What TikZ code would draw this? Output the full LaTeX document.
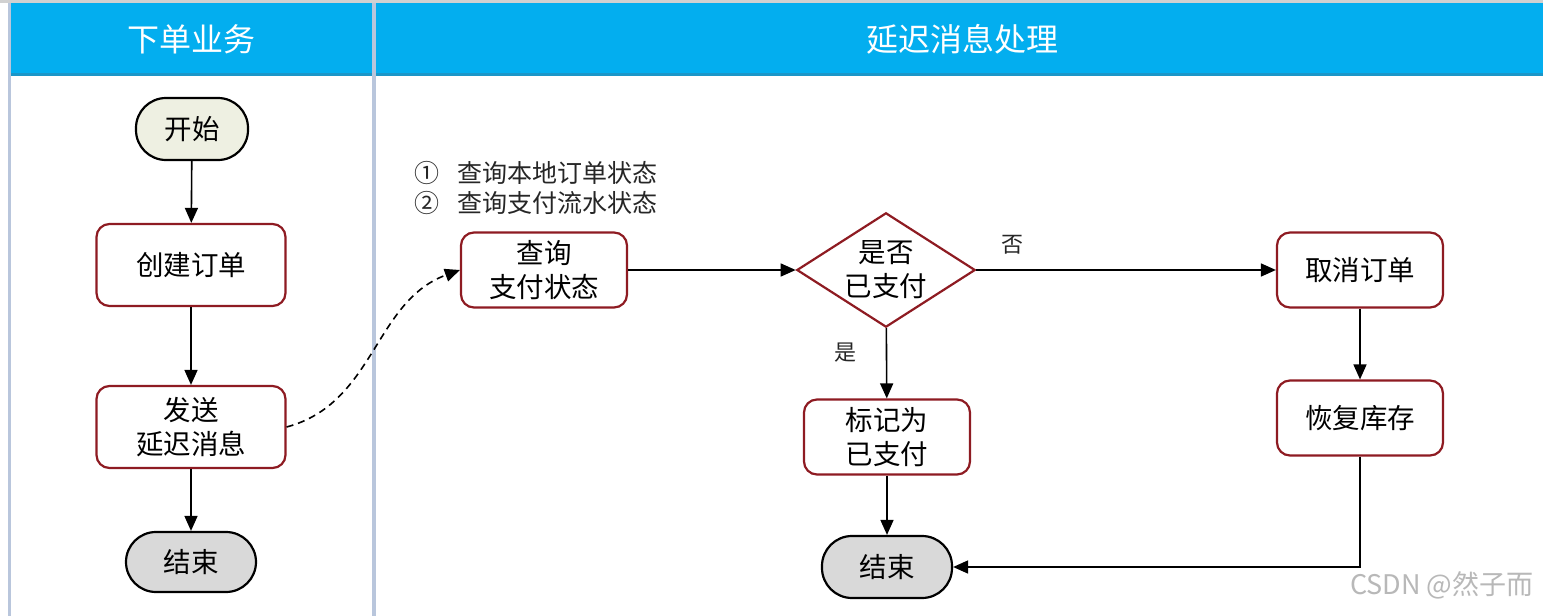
\documentclass[tikz,border=0pt]{standalone}
\usepackage{fontspec}
\setmainfont{Noto Sans CJK SC}
\usetikzlibrary{arrows.meta,shapes.geometric}
\definecolor{hdr}{HTML}{03AEEF}
\definecolor{hdrdark}{HTML}{1B96C8}
\definecolor{lane}{HTML}{B9C6DC}
\definecolor{boxred}{HTML}{8E1B22}
\definecolor{startfill}{HTML}{EEF0E2}
\definecolor{endfill}{HTML}{D9D9D9}
\begin{document}
\begin{tikzpicture}[x=1pt,y=-1pt,
  procbox/.style={draw=boxred,line width=2.2pt,rounded corners=13pt,fill=white,
    minimum width=189pt,minimum height=82pt,align=center,font=\fontsize{27.5}{34}\selectfont},
  procsm/.style={procbox,minimum width=166pt,minimum height=75pt},
  term/.style={draw=black,line width=2.2pt,rounded corners=30pt,
    minimum width=112pt,minimum height=62pt,font=\fontsize{27.5}{34}\selectfont},
  decide/.style={diamond,aspect=1.56,draw=boxred,line width=2.2pt,fill=white,inner sep=1pt,
    minimum width=178pt,minimum height=114pt,align=center,font=\fontsize{27.5}{34}\selectfont},
  flow/.style={-{Triangle[length=15pt,width=13pt]},line width=1.6pt,black},
  lbl/.style={font=\fontsize{22}{26}\selectfont,text=black!85},
  hdrtext/.style={font=\fontsize{32}{38}\selectfont,text=white}
]
\useasboundingbox (0,0) rectangle (1543,616);
\fill[white] (0,0) rectangle (1543,616);
% top strip
\fill[black!18] (0,0) rectangle (1543,3);
% headers
\fill[hdr] (9,3) rectangle (1543,74);
\fill[hdrdark] (9,73) rectangle (1543,76);
% lane borders
\fill[lane] (8,3) rectangle (11,616);
\fill[lane] (372,3) rectangle (376,616);
\node[hdrtext] (h1) at (191,39) {下单业务};
\node[hdrtext] (h2) at (962,39) {延迟消息处理};

% left lane
\node[term,fill=startfill,minimum width=112pt] (start) at (192,129) {开始};
\node[procbox] (create) at (191,265) {创建订单};
\node[procbox] (send) at (191,427) {发送\\延迟消息};
\node[term,fill=endfill,minimum width=130pt,minimum height=60pt] (end1) at (191,562) {结束};

% right lane
\node[procsm] (query) at (544,270) {查询\\支付状态};
\node[decide] (paid) at (886,270) {是否\\已支付};
\node[procsm] (cancel) at (1360,270) {取消订单};
\node[procsm] (restore) at (1360,418) {恢复库存};
\node[procsm] (mark) at (887,437) {标记为\\已支付};
\node[term,fill=endfill,minimum width=130pt,minimum height=62pt] (end2) at (887,567) {结束};

\node[font=\fontsize{25}{30}\selectfont,text=black!85,anchor=west,align=left] (note) at (411,188) {①\hspace{18pt}查询本地订单状态\\②\hspace{18pt}查询支付流水状态};

% connectors
\draw[flow] (start) -- (create);
\draw[flow] (create) -- (send);
\draw[flow] (send) -- (end1);
\draw[flow,dashed,dash pattern=on 7pt off 5pt] (send.east) to[out=15,in=200] (query.west);
\draw[flow] (query) -- (paid);
\draw[flow] (paid) -- node[lbl,above,pos=0.12,yshift=12pt] (no) {否} (cancel);
\draw[flow] (paid) -- node[lbl,left,pos=0.35,xshift=-26pt] (yes) {是} (mark);
\draw[flow] (mark) -- (end2);
\draw[flow] (cancel) -- (restore);
\draw[flow] (restore.south) |- (end2.east);

% watermark
\node[font=\fontsize{27}{32}\selectfont,text=black!28,anchor=east] (wm) at (1537,585) {CSDN @然子而};
\end{tikzpicture}
\end{document}
